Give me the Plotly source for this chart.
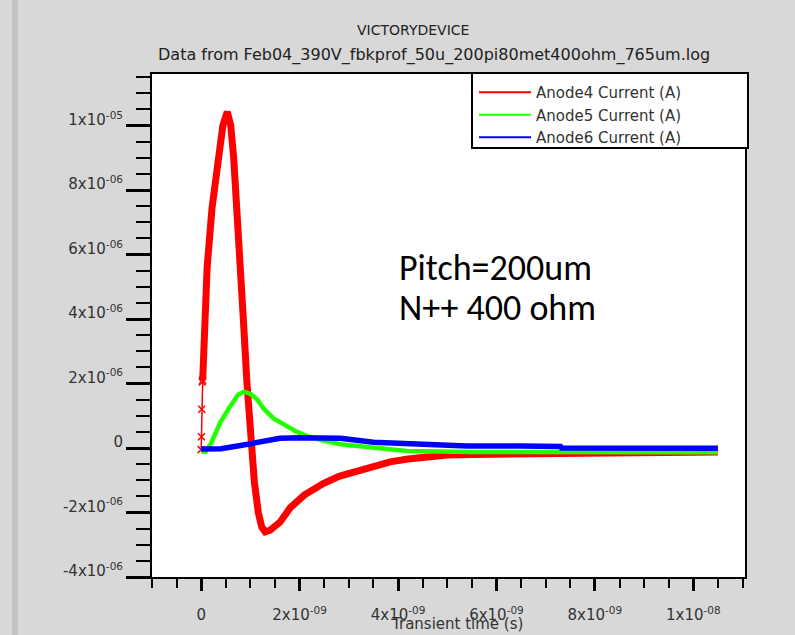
import numpy as np
import plotly.graph_objects as go

# ---- data (time in ns, current in uA) ----
red_t = [0.00, 0.005, 0.01, 0.02, 0.03, 0.07, 0.12, 0.22, 0.34, 0.44, 0.53, 0.60, 0.66, 0.73,
         0.80, 0.86, 0.93, 1.00, 1.08, 1.16, 1.23, 1.30, 1.40, 1.60, 1.81, 2.10, 2.48, 2.80,
         3.17, 3.50, 3.84, 4.20, 4.52, 5.00, 5.53, 6.50, 7.50, 8.50, 9.50, 10.50]
red_i = [-0.05, 0.35, 1.20, 2.05, 2.10, 3.90, 5.60, 7.45, 9.00, 10.00, 10.43, 10.00, 9.00, 7.45,
         5.60, 3.90, 2.00, 0.28, -1.05, -2.00, -2.45, -2.60, -2.55, -2.30, -1.85, -1.45, -1.10, -0.88,
         -0.70, -0.55, -0.43, -0.34, -0.28, -0.22, -0.20, -0.19, -0.17, -0.15, -0.13, -0.12]

green_t = [0.00, 0.09, 0.20, 0.39, 0.59, 0.75, 0.87, 1.00, 1.14, 1.27, 1.47, 1.60, 1.91, 2.15,
           2.50, 2.83, 3.50, 4.18, 5.50, 7.00, 8.50, 10.50]
green_i = [-0.10, -0.12, 0.15, 0.80, 1.30, 1.65, 1.75, 1.68, 1.50, 1.22, 0.92, 0.80, 0.53, 0.37,
           0.22, 0.12, 0.00, -0.09, -0.12, -0.12, -0.13, -0.13]

blue_t = [0.00, 0.40, 0.80, 1.20, 1.60, 2.00, 2.83, 3.50, 4.30, 5.40, 6.50, 7.30, 7.32, 9.00, 10.50]
blue_i = [-0.03, -0.02, 0.08, 0.20, 0.30, 0.32, 0.30, 0.18, 0.12, 0.06, 0.06, 0.05, 0.00, 0.00, -0.01]

series_names = ["Anode4 Current (A)", "Anode5 Current (A)", "Anode6 Current (A)"]
series_colors = ["#ff0000", "#22ff00", "#0000ff"]

y_tickvals = [-4e-6, -2e-6, 0, 2e-6, 4e-6, 6e-6, 8e-6, 1e-5]
y_ticktext = ["-4x10<sup>-06</sup>", "-2x10<sup>-06</sup>", "0", "2x10<sup>-06</sup>",
              "4x10<sup>-06</sup>", "6x10<sup>-06</sup>", "8x10<sup>-06</sup>", "1x10<sup>-05</sup>"]
x_tickvals = [0, 2e-9, 4e-9, 6e-9, 8e-9, 1e-8]
x_ticktext = ["0", "2x10<sup>-09</sup>", "4x10<sup>-09</sup>", "6x10<sup>-09</sup>",
              "8x10<sup>-09</sup>", "1x10<sup>-08</sup>"]

NS = 1e-9
UA = 1e-6
rt = np.array(red_t) * NS
ri = np.array(red_i) * UA
gt = np.array(green_t) * NS
gi = np.array(green_i) * UA
bt = np.array(blue_t) * NS
bi = np.array(blue_i) * UA

fig = go.Figure()

# red: thin initial vertical part with x markers, then thick curve
fig.add_trace(go.Scatter(x=rt[:5], y=ri[:5], mode="lines+markers",
                         line=dict(color=series_colors[0], width=1.5),
                         marker=dict(symbol="x-thin", size=7, line=dict(width=1.5, color=series_colors[0])),
                         showlegend=False))
fig.add_trace(go.Scatter(x=rt[4:], y=ri[4:], mode="lines",
                         line=dict(color=series_colors[0], width=7),
                         showlegend=False))
fig.add_trace(go.Scatter(x=gt, y=gi, mode="lines",
                         line=dict(color=series_colors[1], width=4.5),
                         showlegend=False))
fig.add_trace(go.Scatter(x=bt, y=bi, mode="lines",
                         line=dict(color=series_colors[2], width=5.5),
                         showlegend=False))

# legend entries
for name, col in zip(series_names, series_colors):
    fig.add_trace(go.Scatter(x=[None], y=[None], mode="lines", name=name,
                             line=dict(color=col, width=2)))

W, H = 795, 635
L, R, T, B = 152, 745, 74, 577
pw, ph = R - L, B - T

def px(x):
    return (x - L) / pw

def py(y):
    return (B - y) / ph

tickfont = dict(family="DejaVu Sans", size=15, color="#333333")

fig.update_layout(
    width=W, height=H,
    margin=dict(l=L, r=W - R, t=T, b=H - B, pad=0),
    paper_bgcolor="#d8d8d8",
    plot_bgcolor="#ffffff",
    showlegend=True,
    legend=dict(x=px(474), y=py(76), xanchor="left", yanchor="top",
                bgcolor="rgba(0,0,0,0)", borderwidth=0,
                font=dict(family="DejaVu Sans", size=15, color="#333333"),
                itemwidth=52, tracegroupgap=0),
    xaxis=dict(range=[-1e-9, 11.05e-9], showgrid=False, zeroline=False,
               showline=True, linecolor="black", linewidth=2, mirror=True,
               tickmode="array", tickvals=x_tickvals, ticktext=x_ticktext,
               ticks="outside", ticklen=12, tickwidth=3, tickcolor="black",
               ticklabelstandoff=11,
               minor=dict(tickmode="linear", tick0=0, dtick=0.5e-9, ticks="outside",
                          ticklen=9, tickwidth=2, tickcolor="black", showgrid=False),
               tickfont=tickfont),
    yaxis=dict(range=[-4.0e-6, 11.6e-6], showgrid=False, zeroline=False,
               showline=True, linecolor="black", linewidth=2, mirror=True,
               tickmode="array", tickvals=y_tickvals, ticktext=y_ticktext,
               ticks="outside", ticklen=24, tickwidth=3, tickcolor="black",
               ticklabelshift=-6,
               minor=dict(tickmode="linear", tick0=0, dtick=0.5e-6, ticks="outside",
                          ticklen=14, tickwidth=2, tickcolor="black", showgrid=False),
               tickfont=tickfont),
    shapes=[
        dict(type="rect", xref="paper", yref="paper", x0=px(12), x1=px(18), y0=-0.2, y1=1.3,
             fillcolor="#c4c4c4", line=dict(width=0), layer="below"),
        dict(type="rect", xref="paper", yref="paper", x0=px(472), x1=px(748), y0=py(148), y1=py(73),
             fillcolor="white", line=dict(color="black", width=2), layer="above"),
    ],
    annotations=[
        dict(text="VICTORYDEVICE", xref="paper", yref="paper", x=px(413), y=py(30),
             showarrow=False, xanchor="center", yanchor="middle",
             font=dict(family="DejaVu Sans", size=14, color="#222222")),
        dict(text="Data from Feb04_390V_fbkprof_50u_200pi80met400ohm_765um.log", xref="paper", yref="paper",
             x=px(434), y=py(55), showarrow=False, xanchor="center", yanchor="middle",
             font=dict(family="DejaVu Sans", size=16, color="#222222")),
        dict(text="Transient time (s)", xref="paper", yref="paper", x=px(457), y=py(624),
             showarrow=False, xanchor="center", yanchor="middle",
             font=dict(family="DejaVu Sans", size=15, color="#333333")),
        dict(text="Pitch=200um", xref="paper", yref="paper", x=px(397), y=py(268),
             showarrow=False, xanchor="left", yanchor="middle",
             font=dict(family="Carlito, Noto Sans", size=36, color="black")),
        dict(text="N++ 400 ohm", xref="paper", yref="paper", x=px(397), y=py(308),
             showarrow=False, xanchor="left", yanchor="middle",
             font=dict(family="Carlito, Noto Sans", size=36, color="black")),
    ],
)

fig.write_html("out.html")
